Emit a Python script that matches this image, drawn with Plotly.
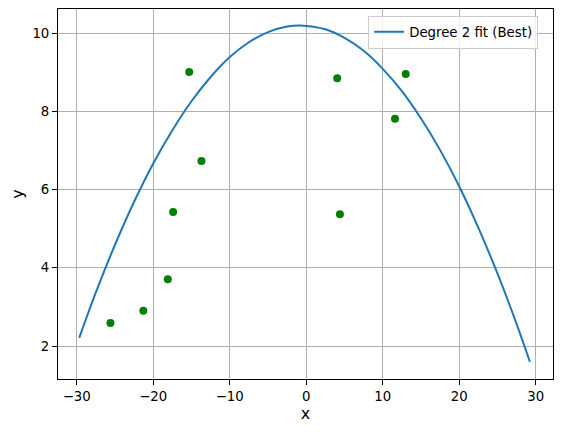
import plotly.graph_objects as go

# scattered observations (green dots)
pts_x = [-25.6, -21.3, -18.1, -17.4, -15.3, -13.7, 4.05, 4.4, 11.6, 13.0]
pts_y = [2.59, 2.90, 3.71, 5.43, 9.01, 6.73, 8.85, 5.37, 7.81, 8.96]

# degree 2 fit curve
fit_x = [-29.67, -27.5, -25, -22.5, -20, -17.5, -15, -12.5, -10, -7.5, -5, -2.5, -0.8,
         2.5, 5, 7.5, 10, 12.5, 15, 17.5, 20, 22.5, 25, 27.5, 29.24]
fit_y = [2.21, 3.37, 4.59, 5.69, 6.67, 7.52, 8.26, 8.88, 9.39, 9.77, 10.03, 10.17, 10.2,
         10.10, 9.88, 9.55, 9.09, 8.52, 7.82, 7.01, 6.08, 5.02, 3.85, 2.56, 1.59]

x_ticks = [-30, -20, -10, 0, 10, 20, 30]
x_labels = ["\u221230", "\u221220", "\u221210", "0", "10", "20", "30"]
y_ticks = [2, 4, 6, 8, 10]
y_labels = ["2", "4", "6", "8", "10"]

fig = go.Figure()
fig.add_trace(go.Scatter(x=fit_x, y=fit_y, mode="lines", name="Degree 2 fit (Best)",
                         line=dict(color="#1f77b4", width=2, shape="spline")))
fig.add_trace(go.Scatter(x=pts_x, y=pts_y, mode="markers", showlegend=False,
                         marker=dict(color="#008000", size=8)))

axis_style = dict(showline=True, linecolor="black", linewidth=1, mirror=True,
                  showgrid=True, gridcolor="#b0b0b0", gridwidth=1,
                  ticks="outside", ticklen=5, tickcolor="black", tickwidth=1,
                  zeroline=False, automargin=False,
                  tickfont=dict(size=13.3, color="black"))

# the page body adds an 8px offset, so the figure is a bit smaller than the window
fig.update_layout(
    width=554, height=424,
    margin=dict(l=50, r=9, t=1, b=53),
    paper_bgcolor="white", plot_bgcolor="white",
    font=dict(family="DejaVu Sans", size=13.3, color="black"),
    xaxis=dict(range=[-32.45, 32.25], tickvals=x_ticks, ticktext=x_labels,
               title=dict(text="x", standoff=2), **axis_style),
    yaxis=dict(range=[1.156, 10.62], tickvals=y_ticks, ticktext=y_labels,
               title=dict(text="y", standoff=6), **axis_style),
    legend=dict(x=0.97, y=0.982, xanchor="right", yanchor="top",
                bgcolor="rgba(255,255,255,0.8)", bordercolor="#cccccc", borderwidth=1,
                itemwidth=30, font=dict(size=13.3)),
)

fig.write_html("out.html")
